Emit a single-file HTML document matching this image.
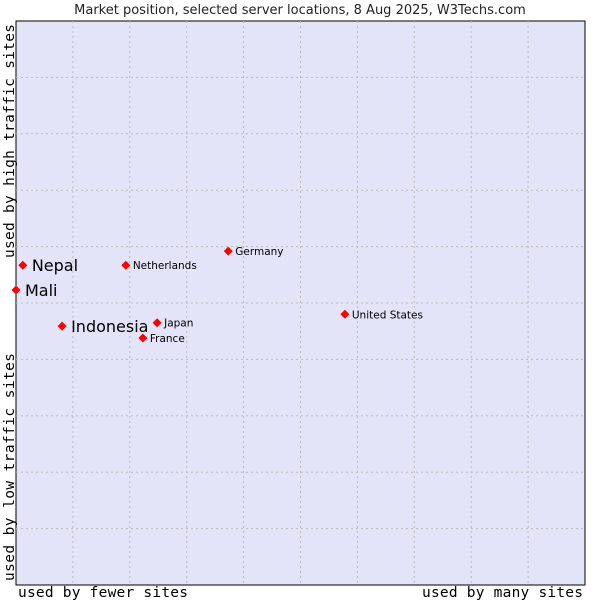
<!DOCTYPE html>
<html><head><meta charset="utf-8"><style>
body{margin:0;background:#fff;}
svg{display:block;}
</style></head><body>
<svg id="chart" width="600" height="600" xmlns="http://www.w3.org/2000/svg">
<text x="300" y="14" text-anchor="middle" font-family="DejaVu Sans, sans-serif" font-size="13" fill="#222">Market position, selected server locations, 8 Aug 2025, W3Techs.com</text>
<rect x="16" y="21" width="569" height="564" fill="#e3e4f8" stroke="#000" stroke-width="1"/>
<g id="grid"></g>
<text x="18" y="597" font-family="DejaVu Sans Mono, monospace" font-size="14.5" fill="#000" textLength="170">used by fewer sites</text>
<text x="583" y="597" text-anchor="end" font-family="DejaVu Sans Mono, monospace" font-size="14.5" fill="#000" textLength="161">used by many sites</text>
<text transform="translate(14,581) rotate(-90)" font-family="DejaVu Sans Mono, monospace" font-size="14.5" fill="#000" textLength="228">used by low traffic sites</text>
<text transform="translate(14,258) rotate(-90)" font-family="DejaVu Sans Mono, monospace" font-size="14.5" fill="#000" textLength="234">used by high traffic sites</text>
<g id="points"></g>
</svg>
<script>
const names = ["Nepal","Mali","Indonesia","Netherlands","Germany","United States","Japan","France"];
const xVals = [1.2, 0, 8.1, 19.3, 37.3, 57.8, 24.8, 22.3];
const yVals = [56.7, 52.3, 45.9, 56.7, 59.2, 48.0, 46.5, 43.8];
const highlighted = [true, true, true, false, false, false, false, false];
const NS = "http://www.w3.org/2000/svg";
const L = 16, T = 21, W = 569, H = 564;
function sx(v){return L + v/100*W;}
function sy(v){return T + H - v/100*H;}
const grid = document.getElementById('grid');
for(let i=1;i<10;i++){
  const vl=document.createElementNS(NS,'line');
  vl.setAttribute('x1',sx(i*10));vl.setAttribute('x2',sx(i*10));
  vl.setAttribute('y1',T);vl.setAttribute('y2',T+H);
  vl.setAttribute('stroke','#bbb');vl.setAttribute('stroke-dasharray','2,3');
  
  
  grid.appendChild(vl);
  const hl=document.createElementNS(NS,'line');
  hl.setAttribute('y1',sy(i*10));hl.setAttribute('y2',sy(i*10));
  hl.setAttribute('x1',L);hl.setAttribute('x2',L+W);
  hl.setAttribute('stroke','#bbb');hl.setAttribute('stroke-dasharray','2,3');
  
  
  grid.appendChild(hl);
}
const pts = document.getElementById('points');
names.forEach((n,i)=>{
  const x=sx(xVals[i]), y=sy(yVals[i]);
  const d=document.createElementNS(NS,'path');
  d.setAttribute('d',`M${x-4.5},${y} L${x},${y-4.5} L${x+4.5},${y} L${x},${y+4.5} Z`);
  d.setAttribute('fill','#f00');
  
  
  pts.appendChild(d);
  const t=document.createElementNS(NS,'text');
  const big=highlighted[i];
  t.setAttribute('x',x+(big?9:7));
  t.setAttribute('y',y+(big?6:4));
  t.setAttribute('font-family','DejaVu Sans, sans-serif');
  t.setAttribute('font-size',big?16:10.5);
  t.setAttribute('fill','#000');
  t.textContent=n;
  
  
  pts.appendChild(t);
});
</script>
</body></html>
